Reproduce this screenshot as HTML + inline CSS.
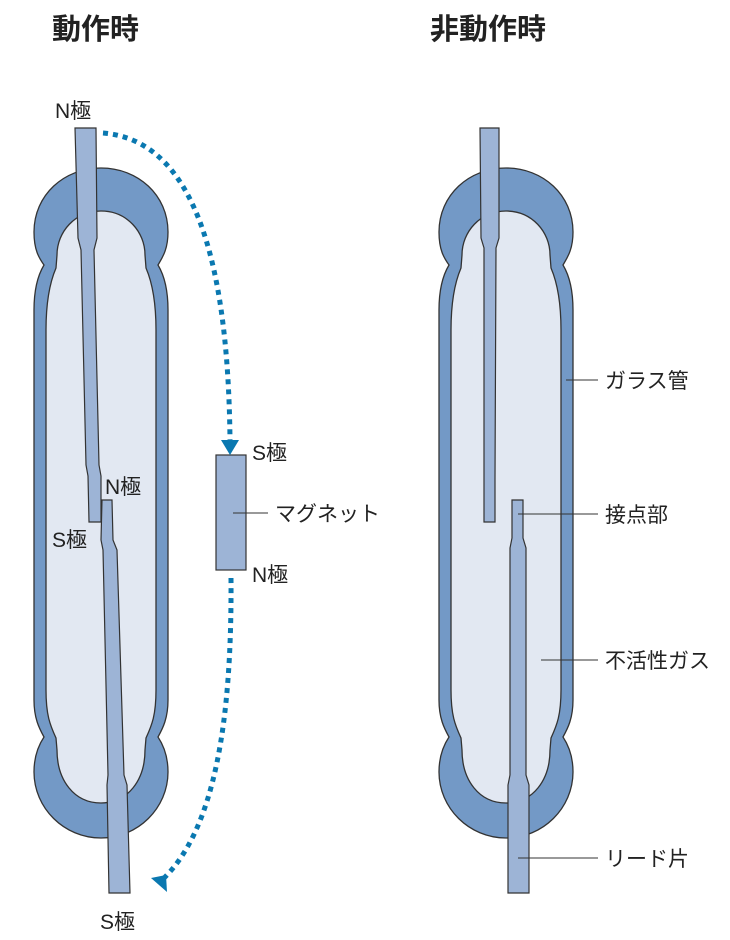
<!DOCTYPE html>
<html><head><meta charset="utf-8"><style>
body{margin:0;background:#fff;}
svg{display:block;}
text{font-family:"Liberation Sans","Noto Sans CJK JP",sans-serif;fill:#222;}
</style></head><body>
<svg width="730" height="940" viewBox="0 0 730 940" xmlns="http://www.w3.org/2000/svg">
<defs>
<g id="tube">
<path d="M101,168 C138,168 168,195 168,232 C168,250 162,258 158,265 C164,275 168,290 168,310 L168,700 C168,718 163,728 158,737 C164,746 168,758 168,772 C168,808 138,838 101,838 C64,838 34,808 34,772 C34,758 38,746 44,737 C39,728 34,718 34,700 L34,310 C34,290 38,275 44,265 C39,258 34,250 34,232 C34,195 64,168 101,168 Z" fill="#7399c6" stroke="#333" stroke-width="1.3"/>
<path d="M101,211 C127,211 145,232 145,255 L146,268 C152,282 156,300 156,330 L156,690 C156,715 152,725 146,738 L145,750 C145,780 128,803 101,803 C74,803 57,780 57,750 L56,738 C50,725 46,715 46,690 L46,330 C46,300 50,282 56,268 L57,255 C57,232 75,211 101,211 Z" fill="#e2e8f2" stroke="#333" stroke-width="1.3"/>
</g>
</defs>
<text x="52" y="39" font-size="29" font-weight="bold">動作時</text>
<text x="430" y="39" font-size="29" font-weight="bold">非動作時</text>

<use href="#tube"/>
<use href="#tube" transform="translate(405,0)"/>

<polygon points="75,128 96,128 97,238 94,250 99,465 101,476 101,522 89,522 88,476 86,465 81,250 78,238" fill="#9db4d6" stroke="#333" stroke-width="1.2"/>
<polygon points="102,500 112,500 113,540 117,550 124,775 127,785 130,893 109,893 107,785 108,775 103,550 101,540" fill="#9db4d6" stroke="#333" stroke-width="1.2"/>

<polygon points="480,128 499,128 499,238 496,248 495,480 495,522 484,522 484,480 484,248 481,238" fill="#9db4d6" stroke="#333" stroke-width="1.2"/>
<polygon points="512,500 523,500 523,538 526,548 526,775 529,785 529,893 508,893 508,785 510,775 510,548 512,538" fill="#9db4d6" stroke="#333" stroke-width="1.2"/>

<rect x="216" y="455" width="30" height="115" fill="#9db4d6" stroke="#333" stroke-width="1.2"/>
<line x1="233" y1="513" x2="268" y2="513" stroke="#333" stroke-width="1"/>

<path d="M103,133 C190,140 228,250 230,440" fill="none" stroke="#0a78b0" stroke-width="5" stroke-dasharray="5,5"/>
<polygon points="221,440 239,440 230,455" fill="#0a78b0"/>
<path d="M231,578 C232,720 215,830 162,880" fill="none" stroke="#0a78b0" stroke-width="5" stroke-dasharray="5,5"/>
<polygon points="151,878 167,892 166,875" fill="#0a78b0"/>

<text x="55" y="118" font-size="21">N極</text>
<text x="105" y="494" font-size="21">N極</text>
<text x="52" y="547" font-size="21">S極</text>
<text x="100" y="929" font-size="21">S極</text>
<text x="252" y="460" font-size="21">S極</text>
<text x="252" y="582" font-size="21">N極</text>
<text x="275" y="521" font-size="21">マグネット</text>

<line x1="566" y1="380" x2="598" y2="380" stroke="#333" stroke-width="1"/>
<text x="605" y="388" font-size="21">ガラス管</text>
<line x1="518" y1="514" x2="598" y2="514" stroke="#333" stroke-width="1"/>
<text x="605" y="522" font-size="21">接点部</text>
<line x1="541" y1="660" x2="598" y2="660" stroke="#333" stroke-width="1"/>
<text x="605" y="668" font-size="21">不活性ガス</text>
<line x1="518" y1="858" x2="598" y2="858" stroke="#333" stroke-width="1"/>
<text x="605" y="866" font-size="21">リード片</text>
</svg>
</body></html>
